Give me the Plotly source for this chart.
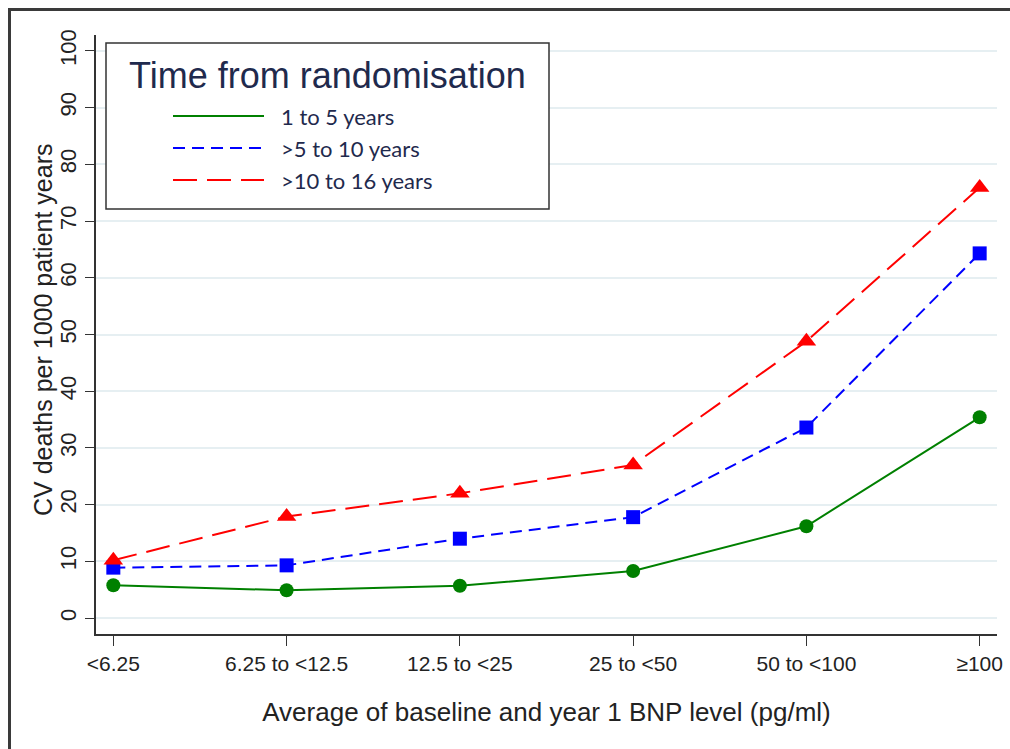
import plotly.graph_objects as go

categories = ["<6.25", "6.25 to <12.5", "12.5 to <25", "25 to <50", "50 to <100", "≥100"]
series_names = ["1 to 5 years", ">5 to 10 years", ">10 to 16 years"]
yrs_1_5 = [5.8, 4.9, 5.7, 8.3, 16.2, 35.4]
yrs_5_10 = [8.9, 9.3, 14.0, 17.8, 33.6, 64.3]
yrs_10_16 = [10.2, 17.9, 22.0, 27.0, 48.8, 75.9]
y_ticks = [0, 10, 20, 30, 40, 50, 60, 70, 80, 90, 100]

series_values = [yrs_1_5, yrs_5_10, yrs_10_16]
colors = ["#008000", "#0000ff", "#ff0000"]
dashes = ["solid", "12px,7px", "24px,10px"]
symbols = ["circle", "square", "triangle-up"]
msizes = [14, 14, 17]

W, H = 1010, 749
ml, mr, mt, mb = 96, 13, 35, 115
pw, ph = W - ml - mr, H - mt - mb

def px(x):
    return (x - ml) / pw

def py(y):
    return (H - mb - y) / ph

fig = go.Figure()
x_idx = list(range(len(categories)))
for name, vals, c, d, s, ms in zip(series_names, series_values, colors, dashes, symbols, msizes):
    fig.add_trace(go.Scatter(
        x=x_idx, y=vals, name=name, mode="lines+markers",
        line=dict(color=c, width=2, dash=d),
        marker=dict(color=c, symbol=s, size=ms, line=dict(width=0)),
        showlegend=False,
    ))

shapes = []
annotations = []
# outer frame: only left and top edges are visible
frame = dict(color="#3a3a3a", width=3)
shapes.append(dict(type="line", xref="paper", yref="paper",
                   x0=px(8), x1=px(W + 5), y0=py(9.5), y1=py(9.5), line=frame, layer="above"))
shapes.append(dict(type="line", xref="paper", yref="paper",
                   x0=px(9.5), x1=px(9.5), y0=py(8), y1=py(H + 5), line=frame, layer="above"))
# legend box
shapes.append(dict(type="rect", xref="paper", yref="paper",
                   x0=px(106), x1=px(549), y0=py(209), y1=py(43),
                   line=dict(color="#333333", width=1.5), fillcolor="white", layer="above"))
annotations.append(dict(xref="paper", yref="paper", x=px(327), y=py(76),
                        text="Time from randomisation", showarrow=False,
                        xanchor="center", yanchor="middle",
                        font=dict(family="Liberation Sans, Arial", size=36, color="#1f2a4d")))
item_y = [116, 148, 180]
for name, c, d, iy in zip(series_names, colors, dashes, item_y):
    shapes.append(dict(type="line", xref="paper", yref="paper",
                       x0=px(173), x1=px(264), y0=py(iy), y1=py(iy),
                       line=dict(color=c, width=2, dash=d), layer="above"))
    annotations.append(dict(xref="paper", yref="paper", x=px(279), y=py(iy),
                            text=name, showarrow=False, xanchor="left", yanchor="middle",
                            font=dict(family="Lato, Open Sans", size=22, color="#1f2a4d")))
# y-axis title
annotations.append(dict(xref="paper", yref="paper", x=px(43), y=py(330),
                        text="CV deaths per 1000 patient years", showarrow=False,
                        textangle=-90, xanchor="center", yanchor="middle",
                        font=dict(family="Liberation Sans, Arial", size=25, color="#222222")))

fig.update_layout(
    width=W, height=H,
    margin=dict(l=ml, r=mr, t=mt, b=mb, autoexpand=False),
    paper_bgcolor="white", plot_bgcolor="white",
    shapes=shapes, annotations=annotations,
    font=dict(family="Liberation Sans, Arial", color="#222222"),
)
fig.update_xaxes(
    range=[-0.1, 5.1], tickvals=x_idx, ticktext=categories,
    showgrid=False, zeroline=False, automargin=False,
    showline=True, linecolor="#333333", linewidth=1.5,
    ticks="outside", ticklen=10, tickwidth=1.2, tickcolor="#333333",
    tickfont=dict(family="Liberation Sans, Arial", size=21, color="#222222"),
    title=dict(text="Average of baseline and year 1 BNP level (pg/ml)",
               font=dict(family="Liberation Sans, Arial", size=26, color="#222222"),
               standoff=29),
)
fig.update_yaxes(
    range=[-2.8, 102.8], tickvals=y_ticks,
    showgrid=True, gridcolor="#e6eff2", gridwidth=1.5, zeroline=False, automargin=False,
    showline=True, linecolor="#333333", linewidth=1.5,
    ticks="outside", ticklen=9, tickwidth=1.2, tickcolor="#333333",
    tickangle=-90,
    tickfont=dict(family="Liberation Sans, Arial", size=22, color="#222222"),
)
fig.write_html("out.html", config={"displayModeBar": False},
               post_script="document.body.style.margin='0';document.body.style.overflow='hidden';")
